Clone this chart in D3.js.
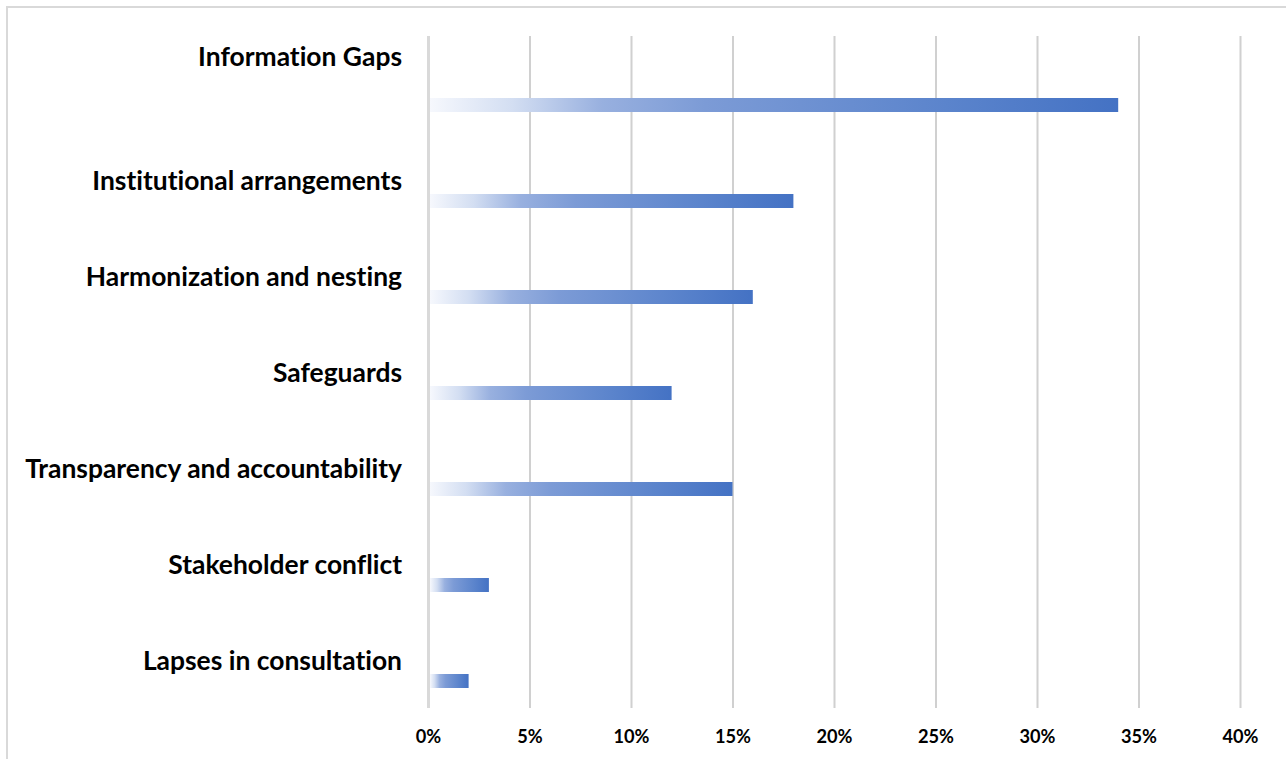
<!DOCTYPE html>
<html>
<head>
<meta charset="utf-8">
<script src="https://cdn.jsdelivr.net/npm/d3@7/dist/d3.min.js"></script>
<style>
  html, body { margin: 0; padding: 0; background: #ffffff; }
  svg { display: block; }
  text { font-variant-ligatures: none; font-feature-settings: "liga" 0, "clig" 0; }
</style>
</head>
<body>
<svg id="chart" width="1286" height="759"></svg>
<script>
const categories = [
  "Information Gaps",
  "Institutional arrangements",
  "Harmonization and nesting",
  "Safeguards",
  "Transparency and accountability",
  "Stakeholder conflict",
  "Lapses in consultation"
];
const values = [0.34, 0.18, 0.16, 0.12, 0.15, 0.03, 0.02];
const tickValues = [0, 0.05, 0.10, 0.15, 0.20, 0.25, 0.30, 0.35, 0.40];

const svg = d3.select("#chart");
const W = 1286, H = 759;
const plot = { left: 428, right: 1240, top: 36, bottom: 708 };

// outer frame
svg.append("rect")
  .attr("x", 7).attr("y", 7)
  .attr("width", W + 20).attr("height", H + 20)
  .attr("fill", "#ffffff")
  .attr("stroke", "#d9d9d9").attr("stroke-width", 2);

const x = d3.scaleLinear().domain([0, 0.40]).range([plot.left, plot.right]);
const y = d3.scaleBand().domain(categories).range([plot.top, plot.bottom]).padding(0);

// gradient
const defs = svg.append("defs");
const grad = defs.append("linearGradient")
  .attr("id", "barGrad")
  .attr("x1", "0%").attr("x2", "100%").attr("y1", "0%").attr("y2", "0%");
[
  [0, "#f6f8fd"], [0.12, "#d3def2"], [0.25, "#98b0df"],
  [0.4, "#7c9bd6"], [0.75, "#5b84cc"], [1, "#4472c4"]
].forEach(([o, c]) => grad.append("stop").attr("offset", o).attr("stop-color", c));

// gridlines via axis
const xAxisGrid = d3.axisBottom(x).tickValues(tickValues)
  .tickSize(-(plot.bottom - plot.top)).tickFormat("");
const gGrid = svg.append("g")
  .attr("transform", `translate(0,${plot.bottom})`)
  .call(xAxisGrid);
gGrid.select(".domain").remove();
gGrid.selectAll(".tick line")
  .attr("stroke", (d) => d === 0 ? "#d9d9d9" : "#d0d0d0")
  .attr("stroke-width", d => d === 0 ? 3 : 2);

// bars
const barH = 14;
svg.append("g").selectAll("rect")
  .data(categories)
  .join("rect")
  .attr("x", x(0) + 2)
  .attr("y", d => y(d) + 62)
  .attr("width", (d, i) => x(values[i]) - x(0) - 2)
  .attr("height", barH)
  .attr("fill", "url(#barGrad)");

// category labels
const labelFont = "Lato, 'Open Sans', 'Liberation Sans', sans-serif";
const gLab = svg.append("g");
const labels = gLab.selectAll("text")
  .data(categories)
  .join("text")
  .attr("x", 402)
  .attr("y", (d, i) => y(d) + (i === 0 ? 21 : 49))
  .attr("dy", "0.35em")
  .attr("text-anchor", "end")
  .attr("font-family", labelFont)
  .attr("font-weight", "bold")
  .attr("font-size", 20)
  .attr("fill", "#000000")
  .text(d => d);
// fit font size so the longest label spans ~377px
let maxW = 0;
labels.each(function() { maxW = Math.max(maxW, this.getComputedTextLength()); });
const fs = 20 * 377 / maxW;
labels.attr("font-size", fs.toFixed(2));

// tick labels
const xAxis = d3.axisBottom(x).tickValues(tickValues)
  .tickSize(0).tickFormat(d3.format(".0%"));
const gAx = svg.append("g")
  .attr("transform", `translate(0,${plot.bottom})`)
  .call(xAxis);
gAx.select(".domain").remove();
const tickTexts = gAx.selectAll(".tick text")
  .attr("y", 29)
  .attr("dy", "0.35em")
  .attr("font-family", labelFont)
  .attr("font-weight", "bold")
  .attr("font-size", 16)
  .attr("fill", "#000000");
let tw = 0;
tickTexts.filter(d => d === 0.40).each(function() { tw = this.getComputedTextLength(); });
if (tw > 0) tickTexts.attr("font-size", (16 * 36 / tw).toFixed(2));
</script>
</body>
</html>
